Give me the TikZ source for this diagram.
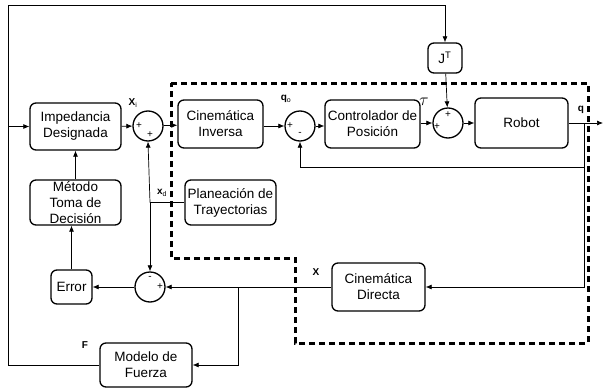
\documentclass[tikz,border=0pt]{standalone}
\usepackage{fontspec}
\setmainfont{Liberation Sans}
\usetikzlibrary{arrows.meta}
\begin{document}
\begin{tikzpicture}[x=1pt,y=-1pt,
  blk/.style={draw, line width=1.3pt, rounded corners=6pt, align=center, inner sep=0pt, font=\fontsize{13.5}{16}\selectfont},
  sumc/.style={draw, circle, line width=1.3pt, minimum size=30pt, inner sep=0pt},
  arr/.style={line width=0.7pt, -{Latex[length=6pt,width=5pt]}},
  ln/.style={line width=0.7pt},
  lbl/.style={font=\fontsize{10}{10}\selectfont\bfseries, inner sep=0pt},
  sg/.style={font=\fontsize{10}{10}\selectfont, inner sep=0pt},
  bnd/.style={line width=3pt, dash pattern=on 6pt off 4pt}]
\useasboundingbox (0,0) rectangle (603,391);
% boundary
\draw[bnd] (171,83) -- (588,83) -- (588,343) -- (295,343) -- (295,258) -- (171,258) -- cycle;
% blocks
\node[blk, minimum width=91pt, minimum height=47pt] (imp) at (75.5,126.5) {Impedancia\\Designada};
\node[sumc, fill=white] (sum1) at (148,126) {};
\node[blk, minimum width=85pt, minimum height=48pt, fill=white] (cinv) at (220.5,124) {Cinemática\\Inversa};
\node[sumc] (sum2) at (300,126) {};
\node[blk, minimum width=95pt, minimum height=48pt] (ctrl) at (372.5,124) {Controlador de\\Posición};
\node[sumc] (sum3) at (448,123) {};
\node[blk, minimum width=93pt, minimum height=50pt] (robot) at (521.5,123) {Robot};
\node[blk, minimum width=34pt, minimum height=30pt] (jt) at (445,58) {J$^{\mathrm{T}}$};
\node[blk, minimum width=91pt, minimum height=45pt, fill=white] (plan) at (230.5,202.5) {Planeación de\\Trayectorias};
\node[blk, minimum width=91pt, minimum height=45pt] (met) at (75.5,202.5) {Método\\Toma de\\Decisión};
\node[blk, minimum width=41pt, minimum height=34pt] (err) at (71.5,287) {Error};
\node[sumc] (sum4) at (150,287) {};
\node[blk, minimum width=93pt, minimum height=48pt] (cdir) at (378.5,287) {Cinemática\\Directa};
\node[blk, minimum width=92pt, minimum height=44pt] (mod) at (146,365) {Modelo de\\Fuerza};
% coordinates
\coordinate (cTL) at (8,5);
\coordinate (cTR) at (445,5);
\coordinate (cBL) at (8,365);
\coordinate (cL) at (8,126.5);
\coordinate (qout) at (603,123);
\coordinate (qj) at (584,123);
\coordinate (fb) at (584,167);
\coordinate (xj) at (238,287);
\coordinate (xdj) at (150,202.5);
% connectors
\draw[arr] (imp) -- (sum1);
\draw[arr] (sum1) -- (cinv);
\draw[arr] (cinv.east |- sum2) -- (sum2);
\draw[arr] (sum2) -- (ctrl.west |- sum2);
\draw[arr] (ctrl.east |- sum3) -- (sum3);
\draw[arr] (sum3) -- (robot);
\draw[arr] (jt) -- (sum3);
\draw[arr] (robot.east) -- (qout);
\draw[arr] (qj) |- (cdir.east);
\draw[arr] (fb) -| (sum2.south);
\draw[arr] (cdir.west) -- (sum4.east);
\draw[arr] (xj) |- (mod.east);
\draw[arr] (sum4) -- (err);
\draw[arr] (err.north) -- (err.north |- met.south);
\draw[arr] (met) -- (imp);
\draw[ln] (plan.west) -- (xdj);
\draw[arr] (xdj) -- (sum1.south);
\draw[arr] (xdj) -- (sum4.north);
\draw[ln] (mod.west) -- (cBL) -- (cTL) -- (cTR);
\draw[arr] (cTR) -- (jt.north);
\draw[arr] (cL) -- (imp.west);
% signs
\node[sg] at (139,126) {+};
\node[sg] at (150,135) {+};
\node[sg] at (290,126) {+};
\node[sg] at (300,134) {-};
\node[sg] at (437,127) {+};
\node[sg] at (448,115) {+};
\node[sg] at (150,278) {-};
\node[sg] at (160,287) {+};
% labels
\node[lbl] at (133,103) {X$_{\mathrm{i}}$};
\node[lbl] at (162,193) {x$_{\mathrm{d}}$};
\node[lbl] at (286,99) {q$_{\mathrm{o}}$};
\node[font=\fontsize{16}{16}\selectfont, inner sep=0pt] at (424,102) {$\tau$};
\node[lbl] at (581,110) {q};
\node[lbl] at (316,272) {X};
\node[lbl] at (85,345) {F};
\end{tikzpicture}
\end{document}
